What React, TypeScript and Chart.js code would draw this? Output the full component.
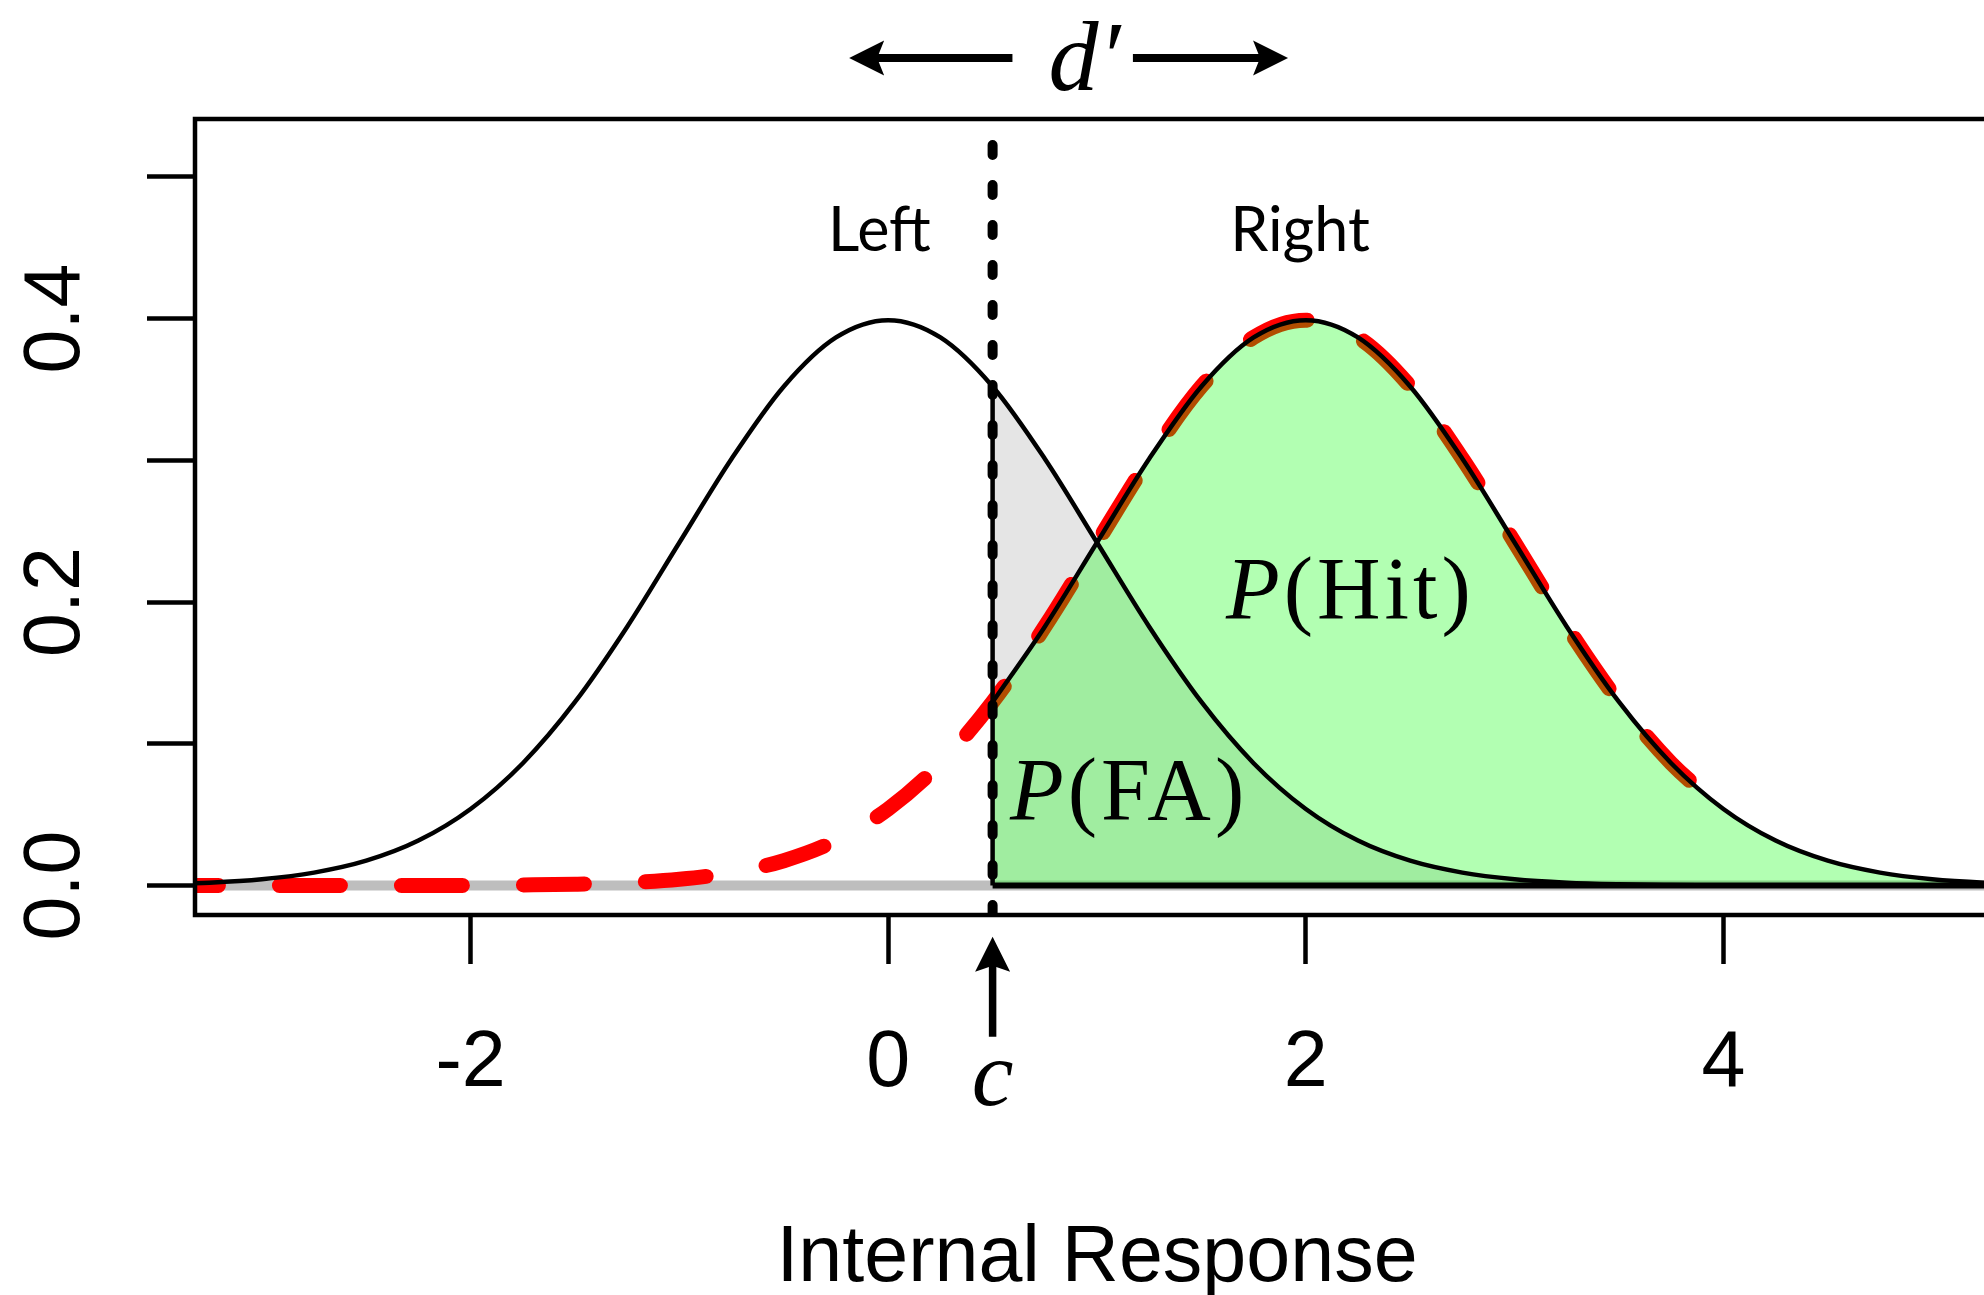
import React, { useEffect, useRef } from 'react';
import { Chart, registerables } from 'chart.js';

Chart.register(...registerables);

// ---- data ----
const xGrid = [
  -4, -3.75, -3.5, -3.25, -3, -2.75, -2.5, -2.25, -2, -1.75, -1.5, -1.25, -1, -0.75, -0.5, -0.25,
  0, 0.25, 0.5, 0.75, 1, 1.25, 1.5, 1.75, 2, 2.25, 2.5, 2.75, 3, 3.25, 3.5, 3.75, 4,
  4.25, 4.5, 4.75, 5, 5.25, 5.5,
];
const leftDensity = [
  0.0001, 0.0004, 0.0009, 0.002, 0.0044, 0.0091, 0.0175, 0.0317, 0.054, 0.0863, 0.1295, 0.1826, 0.242, 0.3011, 0.3521, 0.3867,
  0.3989, 0.3867, 0.3521, 0.3011, 0.242, 0.1826, 0.1295, 0.0863, 0.054, 0.0317, 0.0175, 0.0091, 0.0044, 0.002, 0.0009, 0.0004, 0.0001,
  0, 0, 0, 0, 0, 0,
];
const rightDensity = [
  0, 0, 0, 0, 0, 0, 0, 0, 0.0001, 0.0004, 0.0009, 0.002, 0.0044, 0.0091, 0.0175, 0.0317,
  0.054, 0.0863, 0.1295, 0.1826, 0.242, 0.3011, 0.3521, 0.3867, 0.3989, 0.3867, 0.3521, 0.3011, 0.242, 0.1826, 0.1295, 0.0863, 0.054,
  0.0317, 0.0175, 0.0091, 0.0044, 0.002, 0.0009,
];
const criterion = 0.5;
const dashedRange = [-4, 4];
const xTickValues = [-2, 0, 2, 4];
const xTickLabels = ['-2', '0', '2', '4'];
const yTickValues = [0, 0.1, 0.2, 0.3, 0.4, 0.5];
const yTickLabels = ['0.0', '', '0.2', '', '0.4', ''];
const xLimits = [-3.32, 5.32];
const yLimits = [-0.0208, 0.5408];
const xTitle = 'Internal Response';
const leftLabel = 'Left';
const rightLabel = 'Right';

// ---- layout constants ----
const CANVAS_W = 2010;
const CANVAS_H = 1295;
const SERIF = "'Liberation Serif', 'DejaVu Serif', serif";
const SANS = "'Liberation Sans', Arial, sans-serif";

const pts = (ys: number[]) => xGrid.map((x, i) => ({ x, y: ys[i] }));
const fromCriterion = (ys: number[]) => pts(ys).filter((p) => p.x >= criterion);
const leftAtCriterion = leftDensity[xGrid.indexOf(criterion)];

function drawArrow(ctx: CanvasRenderingContext2D, x0: number, y0: number, x1: number, y1: number,
  shaft: number, headLen: number, headHalf: number, notch: number) {
  const dx = x1 - x0, dy = y1 - y0;
  const len = Math.hypot(dx, dy);
  const ux = dx / len, uy = dy / len;
  const nx = -uy, ny = ux;
  const bx = x1 - ux * headLen, by = y1 - uy * headLen;
  const kx = bx + ux * notch, ky = by + uy * notch;
  ctx.beginPath();
  ctx.lineWidth = shaft;
  ctx.lineCap = 'butt';
  ctx.moveTo(x0, y0);
  ctx.lineTo(kx + ux * 2, ky + uy * 2);
  ctx.stroke();
  ctx.beginPath();
  ctx.moveTo(x1, y1);
  ctx.lineTo(bx + nx * headHalf, by + ny * headHalf);
  ctx.lineTo(kx, ky);
  ctx.lineTo(bx - nx * headHalf, by - ny * headHalf);
  ctx.closePath();
  ctx.fill();
}

function drawParts(ctx: CanvasRenderingContext2D, parts: [string, string][], cx: number, y: number, spacing = 0) {
  const c = ctx as any;
  c.letterSpacing = `${spacing}px`;
  let total = 0;
  const widths = parts.map(([t, f]) => {
    ctx.font = f;
    const w = ctx.measureText(t).width;
    total += w;
    return w;
  });
  total -= spacing;
  let x = cx - total / 2;
  ctx.textAlign = 'left';
  ctx.textBaseline = 'alphabetic';
  parts.forEach(([t, f], i) => {
    ctx.font = f;
    ctx.fillText(t, x, y);
    x += widths[i];
  });
  c.letterSpacing = '0px';
}

const annotationPlugin = {
  id: 'sdtAnnotations',
  afterDraw(chart: any) {
    const { ctx, chartArea, scales } = chart;
    const px = (v: number) => scales.x.getPixelForValue(v);
    const py = (v: number) => scales.y.getPixelForValue(v);
    ctx.save();
    ctx.strokeStyle = '#000';
    ctx.fillStyle = '#000';
    // plot frame
    ctx.lineWidth = 4.5;
    ctx.strokeRect(chartArea.left, chartArea.top, chartArea.right - chartArea.left, chartArea.bottom - chartArea.top);

    // d' arrows
    const ay = py(0.5838);
    drawArrow(ctx, px(0.595), ay, px(-0.187), ay, 8, 35, 17.5, 7);
    drawArrow(ctx, px(1.172), ay, px(1.915), ay, 8, 35, 17.5, 7);
    drawParts(ctx, [['d', `italic 100px ${SERIF}`], ['\u2032', `italic 100px ${SERIF}`]], px(0.94), py(0.5612));

    // Left / Right labels
    ctx.font = "61px Lato, 'Noto Sans', sans-serif";
    ctx.textAlign = 'center';
    ctx.textBaseline = 'alphabetic';
    ctx.fillText(leftLabel, px(-0.0417), py(0.4477));
    ctx.fillText(rightLabel, px(1.972), py(0.4477));

    // P(Hit), P(FA)
    drawParts(ctx, [['P', `italic 88px ${SERIF}`], ['(Hit)', `88px ${SERIF}`]], px(2.204), py(0.1888), 4);
    drawParts(ctx, [['P', `italic 88px ${SERIF}`], ['(FA)', `88px ${SERIF}`]], px(1.144), py(0.0469), 4);

    // criterion arrow and c
    drawArrow(ctx, px(criterion), py(-0.1067), px(criterion), py(-0.0362), 7.5, 35, 17.5, 6);
    ctx.font = `italic 94px ${SERIF}`;
    ctx.textAlign = 'center';
    ctx.fillText('c', px(criterion), py(-0.1548));
    ctx.restore();
  },
};

export default function App() {
  const ref = useRef<HTMLCanvasElement>(null);
  useEffect(() => {
    const canvas = ref.current;
    if (!canvas) return;
    Chart.defaults.font.family = SANS;
    const base = { pointRadius: 0, pointHoverRadius: 0, clip: 0, tension: 0 } as any;
    const dashedPts = pts(rightDensity).filter((p) => p.x >= dashedRange[0] && p.x <= dashedRange[1]);
    const chart = new Chart(canvas, {
      type: 'line',
      data: {
        datasets: [
          { ...base, label: 'grayFill', data: fromCriterion(leftDensity), fill: 'origin', backgroundColor: '#e5e5e5', borderColor: 'rgba(0,0,0,0)', borderWidth: 1, cubicInterpolationMode: 'monotone', order: 10 },
          { ...base, label: 'grayBase', data: [{ x: xGrid[0], y: 0 }, { x: xGrid[xGrid.length - 1], y: 0 }], borderColor: '#bebebe', borderWidth: 10, fill: false, order: 9 },
          { ...base, label: 'rightDashed', data: dashedPts, borderColor: '#ff0000', borderWidth: 15, borderDash: [61, 61], borderCapStyle: 'round', fill: false, cubicInterpolationMode: 'monotone', order: 8 },
          { ...base, label: 'greenFill', data: fromCriterion(rightDensity), fill: 'origin', backgroundColor: 'rgba(0,255,0,0.3)', borderColor: 'rgba(0,0,0,0)', borderWidth: 1, cubicInterpolationMode: 'monotone', order: 7 },
          { ...base, label: 'leftCurve', data: pts(leftDensity), borderColor: '#000', borderWidth: 4.5, fill: false, cubicInterpolationMode: 'monotone', order: 6 },
          { ...base, label: 'rightCurve', data: fromCriterion(rightDensity), borderColor: '#000', borderWidth: 4.5, fill: false, cubicInterpolationMode: 'monotone', order: 5 },
          { ...base, label: 'faEdge', data: [{ x: criterion, y: 0 }, { x: criterion, y: leftAtCriterion }], borderColor: '#000', borderWidth: 4.5, fill: false, order: 4 },
          { ...base, label: 'blackBase', data: [{ x: criterion, y: 0 }, { x: xGrid[xGrid.length - 1], y: 0 }], borderColor: '#000', borderWidth: 6, fill: false, order: 3 },
          { ...base, label: 'criterionLine', data: [{ x: criterion, y: yLimits[0] }, { x: criterion, y: yLimits[1] }], borderColor: '#000', borderWidth: 10, borderDash: [10, 30], borderCapStyle: 'round', fill: false, order: 1 },
        ],
      },
      options: {
        responsive: false,
        animation: false,
        devicePixelRatio: 1,
        events: [],
        layout: { padding: { top: 119, right: 11, left: 0, bottom: 0 } },
        plugins: { legend: { display: false }, tooltip: { enabled: false } },
        scales: {
          x: {
            type: 'linear',
            min: xLimits[0],
            max: xLimits[1],
            afterBuildTicks: (axis: any) => { axis.ticks = xTickValues.map((v) => ({ value: v })); },
            afterFit: (axis: any) => { axis.height = CANVAS_H - 915; },
            ticks: {
              callback: (_v: any, i: number) => xTickLabels[i],
              autoSkip: false,
              maxRotation: 0,
              minRotation: 0,
              padding: 53,
              color: '#000',
              font: { family: SANS, size: 79 },
            },
            grid: { drawOnChartArea: false, drawTicks: true, tickLength: 49, tickWidth: 4.5, tickColor: '#000' },
            border: { display: false },
            title: {
              display: true,
              text: xTitle,
              color: '#000',
              font: { family: SANS, size: 79, lineHeight: 0.9 },
              padding: { top: 0, bottom: 0 },
            },
          },
          y: {
            type: 'linear',
            min: yLimits[0],
            max: yLimits[1],
            afterBuildTicks: (axis: any) => { axis.ticks = yTickValues.map((v) => ({ value: v })); },
            afterFit: (axis: any) => { axis.width = 195; },
            ticks: {
              callback: (_v: any, i: number) => yTickLabels[i],
              autoSkip: false,
              minRotation: 90,
              maxRotation: 90,
              crossAlign: 'center',
              padding: 35,
              color: '#000',
              font: { family: SANS, size: 79 },
            },
            grid: { drawOnChartArea: false, drawTicks: true, tickLength: 48, tickWidth: 4.5, tickColor: '#000' },
            border: { display: false },
          },
        },
      } as any,
      plugins: [annotationPlugin],
    });
    return () => chart.destroy();
  }, []);
  return (
    <div style={{ position: 'fixed', left: 0, top: 0, width: 1984, height: CANVAS_H, overflow: 'hidden', background: '#ffffff' }}>
      <canvas ref={ref} width={CANVAS_W} height={CANVAS_H} style={{ display: 'block', width: CANVAS_W, height: CANVAS_H }} />
    </div>
  );
}
